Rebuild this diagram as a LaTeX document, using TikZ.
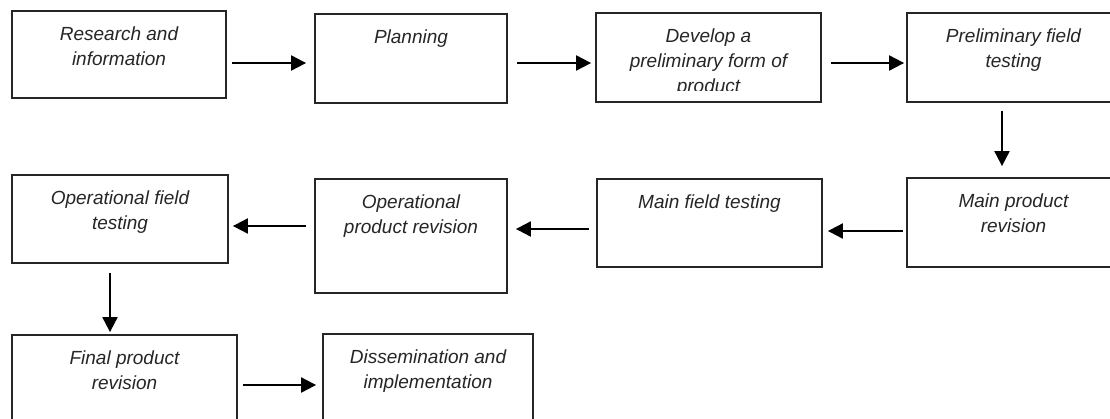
\documentclass[tikz,border=0pt]{standalone}
\usepackage{fontspec}
\setmainfont{Liberation Sans}
\usetikzlibrary{arrows.meta,positioning}
\begin{document}
\begin{tikzpicture}[x=1pt,y=-1pt,
  box/.style={draw=black!85,line width=1.8pt,inner sep=0pt,fill=white},
  txt/.style={inner sep=0pt,align=center,font=\fontsize{19}{25}\selectfont\itshape,text=black!85},
  arr/.style={line width=2pt,-{Triangle[length=15pt,width=15pt]}}]
\useasboundingbox (0,0) rectangle (1110,418);
\fill[white] (0,0) rectangle (1110,418);
\clip (0,0) rectangle (1110,418);
% boxes
\node[box,minimum width=214pt,minimum height=87pt] (B1) at (119,54.5) {};
\node[box,minimum width=192pt,minimum height=89pt] (B2) at (411,58.5) {};
\node[box,minimum width=225pt,minimum height=89pt] (B3) at (708.5,57.5) {};
\node[box,minimum width=213pt,minimum height=89pt] (B4) at (1013.5,57.5) {};
\node[box,minimum width=213pt,minimum height=89pt] (B8) at (1013.5,222.5) {};
\node[box,minimum width=225pt,minimum height=88pt] (B7) at (709.5,223) {};
\node[box,minimum width=192pt,minimum height=114pt] (B6) at (411,236) {};
\node[box,minimum width=216pt,minimum height=88pt] (B5) at (120,219) {};
\node[box,minimum width=225pt,minimum height=95pt] (B9) at (124.5,382.5) {};
\node[box,minimum width=210pt,minimum height=96pt] (B10) at (428,382) {};
% texts
\node[txt,below=16pt of B1.north] (T1) {Research and\\information};
\node[txt,below=16pt of B2.north] (T2) {Planning};
\begin{scope}
\clip (B3.north west) rectangle ([yshift=12pt]B3.south east);
\node[txt,below=16pt of B3.north] (T3) {Develop a\\preliminary form of\\product};
\end{scope}
\node[txt,below=16pt of B4.north] (T4) {Preliminary field\\testing};
\node[txt,below=16pt of B8.north] (T8) {Main product\\revision};
\node[txt,below=16pt of B7.north] (T7) {Main field testing};
\node[txt,below=16pt of B6.north] (T6) {Operational\\product revision};
\node[txt,below=16pt of B5.north] (T5) {Operational field\\testing};
\node[txt,below=16pt of B9.north] (T9) {Final product\\revision};
\node[txt,below=16pt of B10.north] (T10) {Dissemination and\\implementation};
% arrows
\draw[arr,shorten <=5pt,shorten >=8pt] (B1.east |- 0,63) -- (B2.west |- 0,63);
\draw[arr,shorten <=9pt,shorten >=4pt] (B2.east |- 0,63) -- (B3.west |- 0,63);
\draw[arr,shorten <=9pt,shorten >=2pt] (B3.east |- 0,63) -- (B4.west |- 0,63);
\draw[arr,shorten <=8pt,shorten >=11pt] (B4.south -| 1002,0) -- (B8.north -| 1002,0);
\draw[arr,shorten <=3pt,shorten >=5pt] (B8.west |- 0,231) -- (B7.east |- 0,231);
\draw[arr,shorten <=7pt,shorten >=8pt] (B7.west |- 0,229) -- (B6.east |- 0,229);
\draw[arr,shorten <=8pt,shorten >=4pt] (B6.west |- 0,226) -- (B5.east |- 0,226);
\draw[arr,shorten <=9pt,shorten >=2pt] (B5.south -| 110,0) -- (B9.north -| 110,0);
\draw[arr,shorten <=5pt,shorten >=6pt] (B9.east |- 0,385) -- (B10.west |- 0,385);
\end{tikzpicture}
\end{document}
